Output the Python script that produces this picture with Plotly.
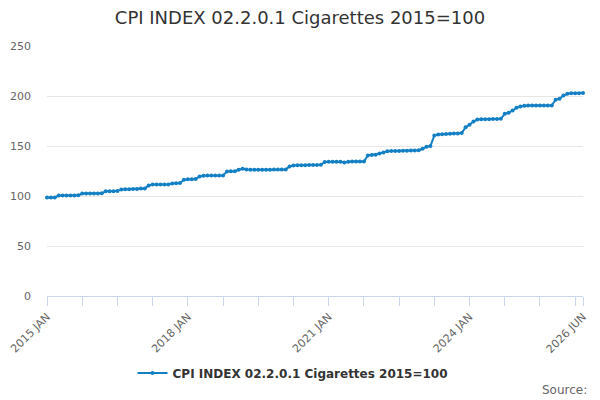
import plotly.graph_objects as go

months = ["JAN", "FEB", "MAR", "APR", "MAY", "JUN", "JUL", "AUG", "SEP", "OCT", "NOV", "DEC"]
periods = [f"{2015 + i // 12} {months[i % 12]}" for i in range(138)]

values = [
    # 2015
    98.5, 98.5, 98.5, 100.4, 100.5, 100.5, 100.6, 100.6, 100.7, 102.4, 102.5, 102.5,
    # 2016
    102.6, 102.6, 102.7, 104.7, 104.8, 104.8, 104.9, 106.6, 106.8, 106.8, 106.9, 107.1,
    # 2017
    107.4, 107.6, 110.5, 111.4, 111.5, 111.5, 111.6, 111.6, 112.6, 112.8, 112.9, 116.2,
    # 2018
    116.7, 116.8, 116.9, 119.5, 120.3, 120.4, 120.5, 120.5, 120.6, 120.6, 124.6, 124.7,
    # 2019
    124.8, 126.2, 127.2, 126.4, 126.2, 126.2, 126.2, 126.2, 126.3, 126.3, 126.4, 126.4,
    # 2020
    126.5, 126.5, 129.5, 130.6, 130.7, 130.8, 130.8, 130.9, 131.0, 131.1, 131.2, 134.1,
    # 2021
    134.2, 134.3, 134.3, 134.2, 133.6, 134.3, 134.5, 134.5, 134.6, 134.5, 140.5, 141.1,
    # 2022
    141.3, 142.5, 143.6, 144.7, 144.9, 145.0, 145.1, 145.2, 145.3, 145.4, 145.5, 145.8,
    # 2023
    147.2, 149.3, 150.0, 160.5, 161.4, 161.7, 162.0, 162.2, 162.4, 162.6, 163.0, 168.8,
    # 2024
    171.2, 174.5, 176.4, 176.7, 176.8, 176.8, 177.0, 177.1, 177.2, 182.2, 183.2, 185.5,
    # 2025
    188.2, 189.5, 190.3, 190.4, 190.5, 190.6, 190.6, 190.5, 190.5, 190.4, 196.2, 197.2,
    # 2026
    200.5, 202.2, 202.7, 202.8, 202.8, 202.9,
]

series_name = "CPI INDEX 02.2.0.1 Cigarettes 2015=100"
title_text = "CPI INDEX 02.2.0.1 Cigarettes 2015=100"
labelled = {0: "2015 JAN", 36: "2018 JAN", 72: "2021 JAN", 108: "2024 JAN", 137: "2026 JUN"}

idx = list(range(len(values)))
tickvals = list(range(0, 136, 9)) + [137]
ticktext = [labelled.get(v, "") for v in tickvals]

color = "#137fc4"
font_family = "DejaVu Sans"

fig = go.Figure()
fig.add_trace(go.Scatter(
    x=idx, y=values, mode="lines+markers", name=series_name,
    line=dict(color=color, width=2),
    marker=dict(color=color, size=4),
    customdata=periods,
    hovertemplate="%{customdata}: %{y}<extra></extra>",
    cliponaxis=False,
))

fig.update_layout(
    width=600, height=400,
    margin=dict(l=47, r=17, t=46, b=104, autoexpand=False),
    paper_bgcolor="white", plot_bgcolor="white",
    font=dict(family=font_family, color="#666666", size=11),
    title=dict(text=title_text, x=0.5, xanchor="center", y=0.955, yanchor="middle",
               font=dict(size=18, color="#333333", family=font_family)),
    showlegend=True,
    legend=dict(orientation="h", x=0.459, xanchor="center", y=-0.308, yanchor="middle",
                font=dict(size=12, color="#333333", weight="bold", family=font_family)),
    annotations=[dict(text="Source:", xref="paper", yref="paper", x=1.011, y=-0.376,
                      xanchor="right", yanchor="middle", showarrow=False,
                      font=dict(size=12, color="#666666", family=font_family))],
)

fig.update_xaxes(
    range=[0, 137], tickmode="array", tickvals=tickvals, ticktext=ticktext,
    tickangle=-45, ticks="outside", ticklen=9, tickcolor="#ccd6eb", tickwidth=1,
    showline=True, linecolor="#ccd6eb", linewidth=1, showgrid=False, zeroline=False,
    tickfont=dict(size=11, color="#666666"), automargin=False,
)
fig.update_yaxes(
    range=[0, 250], dtick=50, showgrid=True, gridcolor="#e6e6e6", gridwidth=1,
    zeroline=False, showline=False, ticks="", ticklabelstandoff=15,
    tickfont=dict(size=11, color="#666666"), automargin=False,
)

fig.write_html(
    "out.html",
    config={"displayModeBar": False},
    post_script="document.body.style.margin='0';document.body.style.overflow='hidden';",
)
